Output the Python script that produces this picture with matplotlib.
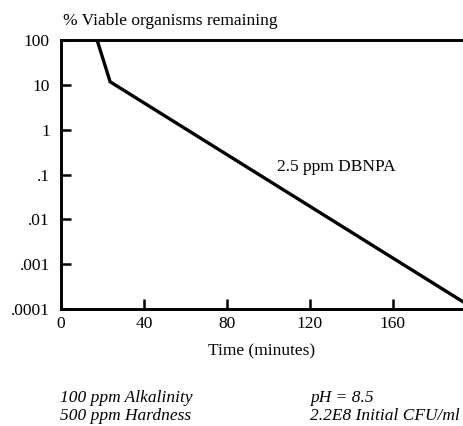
import matplotlib
matplotlib.use("Agg")
import matplotlib.pyplot as plt
from matplotlib.ticker import FixedLocator, FixedFormatter, NullLocator

plt.rcParams["font.family"] = ["Liberation Serif", "DejaVu Serif"]

# kill curve
time_min = [17.4, 23.7, 194.0]
viable_pct = [100.0, 11.7, 0.000145]

y_ticks = [100, 10, 1, 0.1, 0.01, 0.001, 0.0001]
y_labels = ["100", "10", "1", ".1", ".01", ".001", ".0001"]
x_ticks = [0, 40, 80, 120, 160]

fig = plt.figure(figsize=(4.63, 4.26), dpi=100)
ax = fig.add_axes([0.1318, 0.2746, 0.8682, 0.6315])

ax.plot(time_min, viable_pct, color="black", linewidth=2.4, solid_joinstyle="miter")

ax.set_yscale("log")
ax.set_ylim(0.0001, 100)
ax.set_xlim(0, 194)

ax.yaxis.set_major_locator(FixedLocator(y_ticks))
ax.yaxis.set_major_formatter(FixedFormatter(y_labels))
ax.yaxis.set_minor_locator(NullLocator())
ax.set_xticks(x_ticks)
ax.set_xticklabels([str(t) for t in x_ticks])

ax.tick_params(axis="both", direction="in", length=7, width=1.8, labelsize=12.5, color="black")
ax.tick_params(axis="y", pad=8)
ax.tick_params(axis="x", pad=5)

for side in ["left", "bottom", "top"]:
    ax.spines[side].set_linewidth(2.1)
ax.spines["right"].set_visible(False)

ax.set_xlabel("Time (minutes)", fontsize=12.5, labelpad=8)

fig.text(0.136, 0.951, "% Viable organisms remaining", fontsize=12.5, va="center", ha="left")
ax.text(104, 0.15, "2.5 ppm DBNPA", fontsize=12.5, va="center", ha="left")

fig.text(0.130, 0.045, "100 ppm Alkalinity\n500 ppm Hardness", fontsize=12.5, style="italic",
         va="center", ha="left", linespacing=1.15)
fig.text(0.669, 0.045, "pH = 8.5\n2.2E8 Initial CFU/ml", fontsize=12.5, style="italic",
         va="center", ha="left", linespacing=1.15)

fig.savefig("out.png", dpi=100)
